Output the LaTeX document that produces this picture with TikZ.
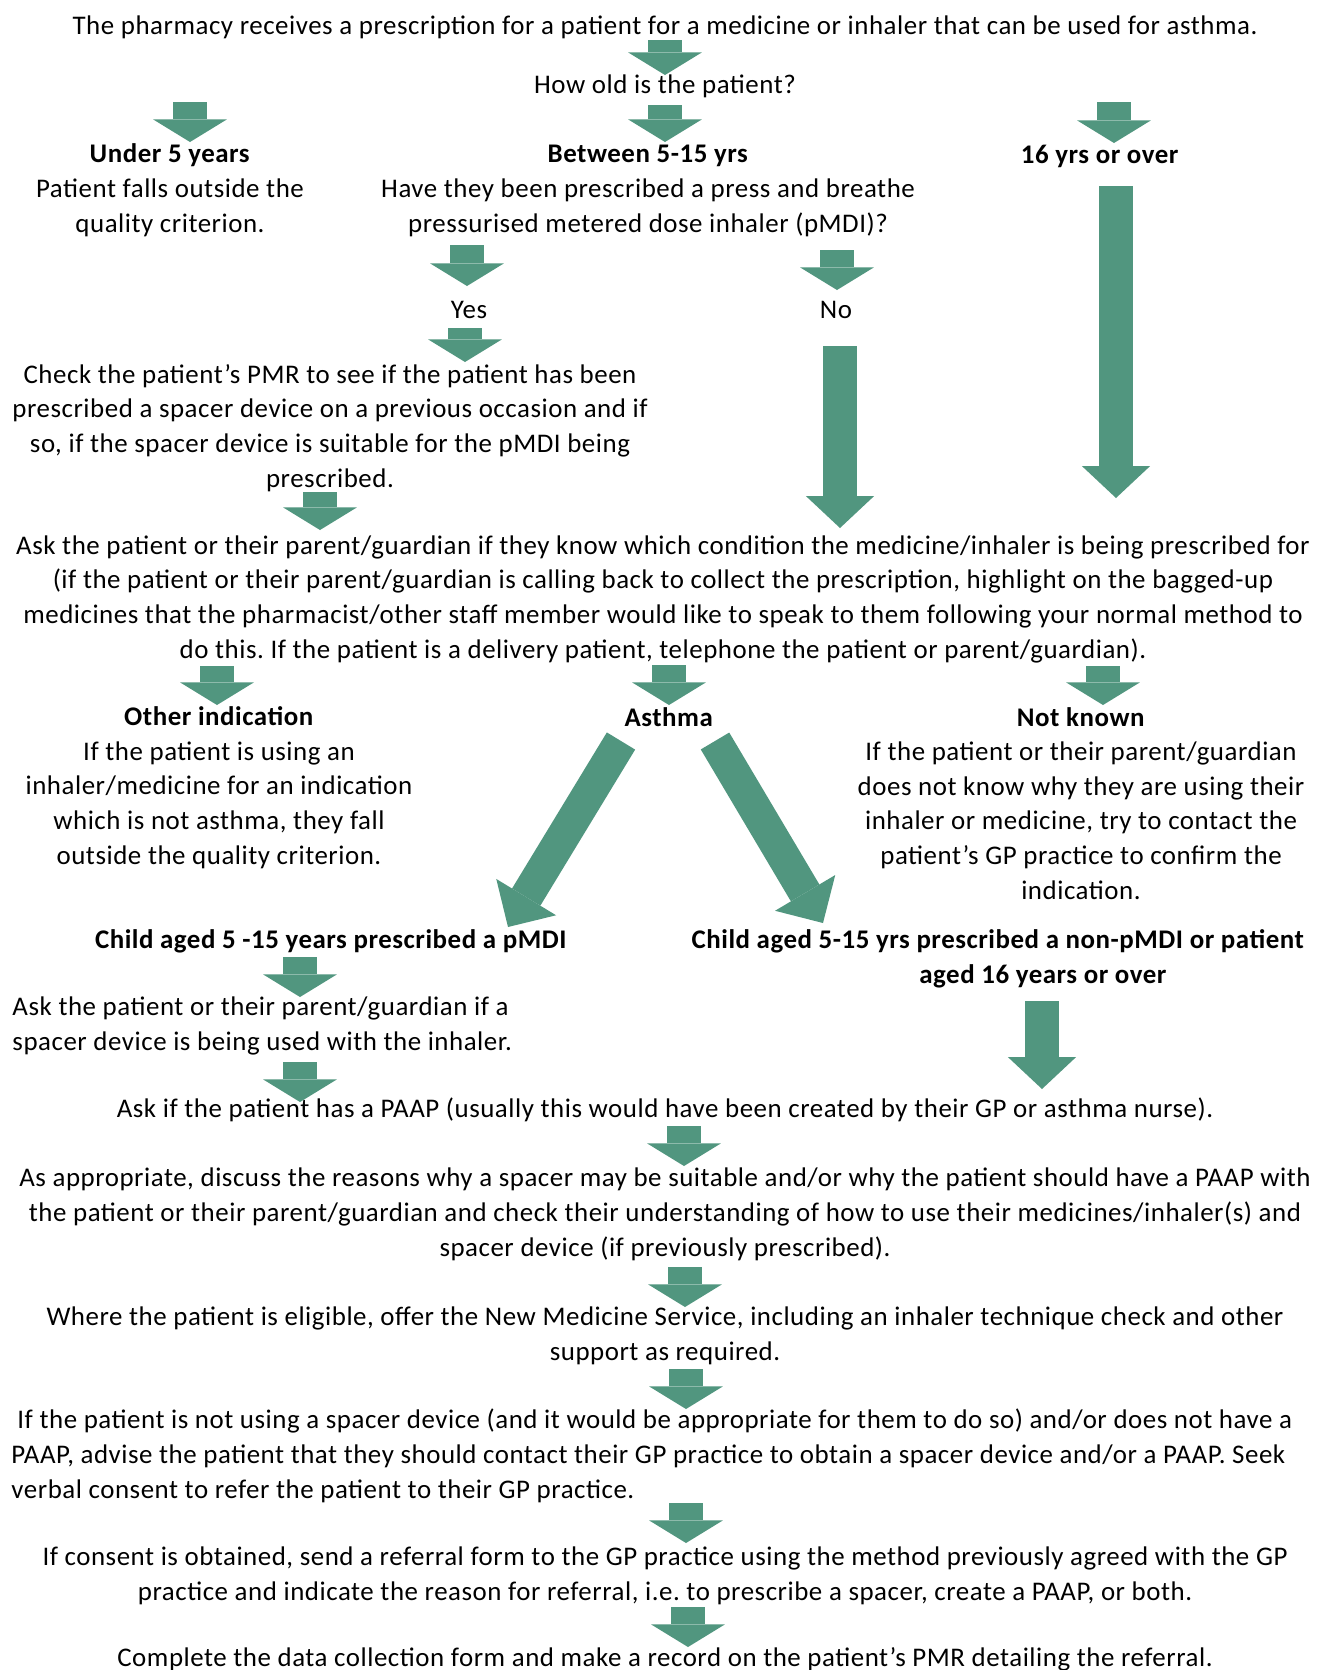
\documentclass[tikz,border=0pt]{standalone}
\usepackage{fontspec}
\setmainfont{Carlito}[LetterSpace=2]
\usetikzlibrary{arrows.meta}
\definecolor{flowgreen}{RGB}{81,150,127}
\frenchspacing

\begin{document}
\begin{tikzpicture}[x=0.42pt, y=-0.42pt,
        txt/.style = {inner sep=0, anchor=base, align=center, font=\fontsize{11.3}{14.5}\selectfont},
        lefttxt/.style = {txt, anchor=base west, align=left},
        flow/.style = {draw=flowgreen, line width=14.3pt, -{Triangle[width=31pt, length=9.5pt, line width=0pt 0 0]}},
        longflow/.style = {draw=flowgreen, line width=14.3pt, -{Triangle[width=28.6pt, length=13.4pt, line width=0pt 0 0]}},
        slantflow/.style = {draw=flowgreen, line width=13.9pt, -{Triangle[width=29.4pt, length=14.7pt, line width=0pt 0 0]}}]
    \path[use as bounding box, fill=white] (0, 0) rectangle (1320, 1670);

    % arrow ends
    \coordinate (s1) at (665, 40);    \coordinate (e1) at (665, 75);
    \coordinate (s2) at (665, 105);   \coordinate (e2) at (665, 142);
    \coordinate (s3) at (190, 102);   \coordinate (e3) at (190, 142);
    \coordinate (s4) at (1114, 102);  \coordinate (e4) at (1114, 143);
    \coordinate (s5) at (467, 245);   \coordinate (e5) at (467, 286);
    \coordinate (s6) at (837, 250);   \coordinate (e6) at (837, 290);
    \coordinate (s7) at (465, 328);   \coordinate (e7) at (465, 362);
    \coordinate (s8) at (320, 492);   \coordinate (e8) at (320, 530);
    \coordinate (s9) at (217, 666);   \coordinate (e9) at (217, 705);
    \coordinate (s10) at (669, 665);  \coordinate (e10) at (669, 705);
    \coordinate (s11) at (1103, 666); \coordinate (e11) at (1103, 705);
    \coordinate (s12) at (300, 957);  \coordinate (e12) at (300, 997);
    \coordinate (s13) at (300, 1062); \coordinate (e13) at (300, 1102);
    \coordinate (s14) at (684, 1126); \coordinate (e14) at (684, 1166);
    \coordinate (s15) at (685, 1267); \coordinate (e15) at (685, 1307);
    \coordinate (s16) at (686, 1369); \coordinate (e16) at (686, 1409);
    \coordinate (s17) at (686, 1503); \coordinate (e17) at (686, 1543);
    \coordinate (s18) at (688, 1607); \coordinate (e18) at (688, 1647);
    \coordinate (nos) at (840, 346);  \coordinate (noe) at (840, 528);
    \coordinate (olds) at (1116, 186); \coordinate (olde) at (1116, 498);
    \coordinate (nons) at (1042, 1001); \coordinate (none) at (1042, 1089);
    \coordinate (lefts) at (621, 741); \coordinate (lefte) at (508, 927);
    \coordinate (rights) at (715, 741); \coordinate (righte) at (823, 923);

    \draw[flow] (s1) -- (e1);
    \draw[flow] (s2) -- (e2);
    \draw[flow] (s3) -- (e3);
    \draw[flow] (s4) -- (e4);
    \draw[flow] (s5) -- (e5);
    \draw[flow] (s6) -- (e6);
    \draw[flow] (s7) -- (e7);
    \draw[flow] (s8) -- (e8);
    \draw[flow] (s9) -- (e9);
    \draw[flow] (s10) -- (e10);
    \draw[flow] (s11) -- (e11);
    \draw[flow] (s12) -- (e12);
    \draw[flow] (s13) -- (e13);
    \draw[flow] (s14) -- (e14);
    \draw[flow] (s15) -- (e15);
    \draw[flow] (s16) -- (e16);
    \draw[flow] (s17) -- (e17);
    \draw[flow] (s18) -- (e18);
    \draw[longflow] (nos) -- (noe);
    \draw[longflow] (olds) -- (olde);
    \draw[longflow] (nons) -- (none);
    \draw[slantflow] (lefts) -- (lefte);
    \draw[slantflow] (rights) -- (righte);

    % texts (y is the baseline of the last line)
    \node[txt] at (665, 34) (title) {The pharmacy receives a prescription for a patient for a medicine or inhaler that can be used for asthma.};
    \node[txt] at (665, 93) (howold) {How old is the patient?};
    \node[txt] at (170, 232) (under5) {\textbf{Under 5 years}\\Patient falls outside the\\quality criterion.};
    \node[txt] at (648, 232) (between) {\textbf{Between 5-15 yrs}\\Have they been prescribed a press and breathe\\pressurised metered dose inhaler (pMDI)?};
    \node[txt] at (1100, 163) (over16) {\textbf{16 yrs or over}};
    \node[txt] at (469, 318) (yes) {Yes};
    \node[txt] at (836, 318) (no) {No};
    \node[txt] at (330, 487) (checkpmr) {Check the patient’s PMR to see if the patient has been\\prescribed a spacer device on a previous occasion and if\\so, if the spacer device is suitable for the pMDI being\\prescribed.};
    \node[txt] at (663, 658) (askcond) {Ask the patient or their parent/guardian if they know which condition the medicine/inhaler is being prescribed for\\(if the patient or their parent/guardian is calling back to collect the prescription, highlight on the bagged-up\\medicines that the pharmacist/other staff member would like to speak to them following your normal method to\\do this. If the patient is a delivery patient, telephone the patient or parent/guardian).};
    \node[txt] at (219, 864) (other) {\textbf{Other indication}\\If the patient is using an\\inhaler/medicine for an indication\\which is not asthma, they fall\\outside the quality criterion.};
    \node[txt] at (669, 726) (asthma) {\textbf{Asthma}};
    \node[txt] at (1081, 899) (notknown) {\textbf{Not known}\\If the patient or their parent/guardian\\does not know why they are using their\\inhaler or medicine, try to contact the\\patient’s GP practice to confirm the\\indication.};
    \node[txt] at (331, 948) (childpmdi) {\textbf{Child aged 5 -15 years prescribed a pMDI}};
    \node[txt] at (998, 983) (childother) {\textbf{Child aged 5-15 yrs prescribed a non-pMDI or patient}\\\hspace*{38pt}\textbf{aged 16 years or over}};
    \node[lefttxt] at (12, 1050) (askspacer) {Ask the patient or their parent/guardian if a\\spacer device is being used with the inhaler.};
    \node[txt] at (665, 1117) (askpaap) {Ask if the patient has a PAAP (usually this would have been created by their GP or asthma nurse).};
    \node[txt] at (665, 1256) (discuss) {As appropriate, discuss the reasons why a spacer may be suitable and/or why the patient should have a PAAP with\\the patient or their parent/guardian and check their understanding of how to use their medicines/inhaler(s) and\\spacer device (if previously prescribed).};
    \node[txt] at (665, 1360) (nms) {Where the patient is eligible, offer the New Medicine Service, including an inhaler technique check and other\\support as required.};
    \node[lefttxt] at (11, 1498) (advise) {\hspace*{2.5pt}If the patient is not using a spacer device (and it would be appropriate for them to do so) and/or does not have a\\PAAP, advise the patient that they should contact their GP practice to obtain a spacer device and/or a PAAP. Seek\\verbal consent to refer the patient to their GP practice.};
    \node[txt] at (665, 1600) (referral) {If consent is obtained, send a referral form to the GP practice using the method previously agreed with the GP\\practice and indicate the reason for referral, i.e. to prescribe a spacer, create a PAAP, or both.};
    \node[txt] at (665, 1666) (record) {Complete the data collection form and make a record on the patient’s PMR detailing the referral.};
\end{tikzpicture}
\end{document}
